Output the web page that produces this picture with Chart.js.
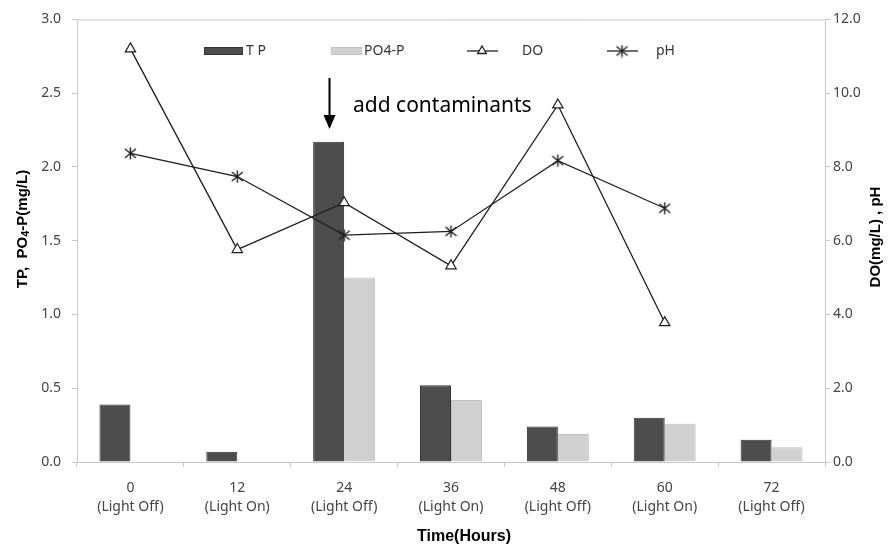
<!DOCTYPE html>
<html>
<head>
<meta charset="utf-8">
<script src="https://cdn.jsdelivr.net/npm/chart.js@4"></script>
<style>
  html, body { margin: 0; padding: 0; background: #fff; }
  #wrap { width: 889px; height: 550px; position: relative; }
</style>
</head>
<body>
<div id="wrap"><canvas id="c" width="889" height="550"></canvas></div>
<script>
// ---- data ----
const hours = ["0", "12", "24", "36", "48", "60", "72"];
const phases = ["(Light Off)", "(Light On)", "(Light Off)", "(Light On)", "(Light Off)", "(Light On)", "(Light Off)"];
const tpValues = [0.39, 0.07, 2.17, 0.52, 0.24, 0.30, 0.15];
const po4Values = [null, null, 1.25, 0.42, 0.19, 0.26, 0.10];
const doValues = [11.2, 5.76, 7.03, 5.32, 9.68, 3.78, null];
const phValues = [8.37, 7.74, 6.15, 6.25, 8.17, 6.88, null];
const leftTicks = [0, 0.5, 1.0, 1.5, 2.0, 2.5, 3.0];
const rightTicks = [0, 2, 4, 6, 8, 10, 12];
const seriesNames = ["T P", "PO4-P", "DO", "pH"];
const annotationText = "add contaminants";
const annotationIndex = 2;

const labels = hours.map((h, i) => [h, phases[i]]);

// dotted light pattern for PO4-P bars
function makePattern() {
  const p = document.createElement('canvas');
  p.width = 2; p.height = 2;
  const g = p.getContext('2d');
  g.fillStyle = '#dcdcdc'; g.fillRect(0, 0, 2, 2);
  g.fillStyle = '#c4c4c4'; g.fillRect(0, 0, 1, 1); g.fillRect(1, 1, 1, 1);
  return g.createPattern(p, 'repeat');
}
// six-armed asterisk marker for pH
function makeAsterisk() {
  const c = document.createElement('canvas');
  c.width = 13; c.height = 13;
  const g = c.getContext('2d');
  g.strokeStyle = '#1e1e1e'; g.lineWidth = 1.4;
  g.beginPath();
  g.moveTo(1, 2); g.lineTo(12, 11);
  g.moveTo(12, 2); g.lineTo(1, 11);
  g.moveTo(6.5, 0.5); g.lineTo(6.5, 12.5);
  g.stroke();
  return c;
}
const ctx0 = document.getElementById('c').getContext('2d');
const po4Fill = makePattern();
const asterisk = makeAsterisk();

const LINE = '#1e1e1e';
const TICKFONT = { family: "'Noto Sans', 'Open Sans', sans-serif", size: 14, lineHeight: 1.4 };
const AXISCOL = '#c8c8c8';

const overlay = {
  id: 'overlay',
  afterDraw(chart) {
    const ctx = chart.ctx;
    const a = chart.chartArea;
    ctx.save();
    // top border
    ctx.strokeStyle = AXISCOL; ctx.lineWidth = 1;
    ctx.beginPath(); ctx.moveTo(a.left, a.top + 0.5); ctx.lineTo(a.right, a.top + 0.5); ctx.stroke();

    // legend
    const ly = 51;
    ctx.font = "14px 'Noto Sans', sans-serif";
    ctx.textBaseline = 'middle';
    // TP
    ctx.fillStyle = '#4d4d4d'; ctx.fillRect(204, ly - 4, 39, 8);
    ctx.strokeStyle = '#333'; ctx.lineWidth = 1; ctx.strokeRect(204.5, ly - 3.5, 38, 7);
    ctx.fillStyle = '#333'; ctx.textAlign = 'left';
    ctx.fillText(seriesNames[0], 246, ly);
    // PO4
    ctx.fillStyle = po4Fill; ctx.fillRect(331, ly - 4, 31, 8);
    ctx.strokeStyle = '#c0c0c0'; ctx.strokeRect(331.5, ly - 3.5, 30, 7);
    ctx.fillStyle = '#333';
    ctx.fillText(seriesNames[1], 364, ly);
    // DO
    ctx.strokeStyle = LINE; ctx.lineWidth = 1.3;
    ctx.beginPath(); ctx.moveTo(467, ly); ctx.lineTo(498, ly); ctx.stroke();
    ctx.fillStyle = '#fff';
    Chart.helpers.drawPoint(ctx, { pointStyle: 'triangle', radius: 5, borderWidth: 1.2 }, 482, ly);
    ctx.fillStyle = '#333';
    ctx.fillText(seriesNames[2], 522, ly);
    // pH
    ctx.strokeStyle = LINE; ctx.lineWidth = 1.3;
    ctx.beginPath(); ctx.moveTo(607, ly); ctx.lineTo(638, ly); ctx.stroke();
    ctx.drawImage(asterisk, 622 - 6.5, ly - 6.5);
    ctx.fillStyle = '#333';
    ctx.fillText(seriesNames[3], 656, ly);

    // annotation arrow above TP bar at 24h
    const bar = chart.getDatasetMeta(0).data[annotationIndex];
    const ax = Math.round(bar.x) + 0.5;
    ctx.strokeStyle = '#000'; ctx.lineWidth = 2;
    ctx.beginPath(); ctx.moveTo(ax, 78); ctx.lineTo(ax, 118); ctx.stroke();
    ctx.fillStyle = '#000';
    ctx.beginPath(); ctx.moveTo(ax - 6, 115); ctx.lineTo(ax + 6, 115); ctx.lineTo(ax, 129); ctx.closePath(); ctx.fill();
    ctx.font = "21px 'Noto Sans', sans-serif";
    ctx.textAlign = 'left'; ctx.textBaseline = 'middle';
    ctx.fillText(annotationText, 353, 106);

    // axis titles
    const bold = "bold 15px 'Liberation Sans', Arial, sans-serif";
    const boldSmall = "bold 11px 'Liberation Sans', Arial, sans-serif";
    // left title with subscript 4
    ctx.save();
    ctx.translate(23, 229);
    ctx.rotate(-Math.PI / 2);
    const parts = [["TP,  PO", bold, 0], ["4", boldSmall, 3], ["-P(mg/L)", bold, 0]];
    let total = 0;
    parts.forEach(p => { ctx.font = p[1]; total += ctx.measureText(p[0]).width; });
    let x = -total / 2;
    ctx.fillStyle = '#000'; ctx.textAlign = 'left'; ctx.textBaseline = 'middle';
    parts.forEach(p => { ctx.font = p[1]; ctx.fillText(p[0], x, p[2]); x += ctx.measureText(p[0]).width; });
    ctx.restore();
    // right title
    ctx.save();
    ctx.translate(876, 237);
    ctx.rotate(-Math.PI / 2);
    ctx.font = bold; ctx.fillStyle = '#000'; ctx.textAlign = 'center'; ctx.textBaseline = 'middle';
    ctx.fillText("DO(mg/L) , pH", 0, 0);
    ctx.restore();
    // x title
    ctx.font = "bold 16px 'Liberation Sans', Arial, sans-serif";
    ctx.fillStyle = '#000'; ctx.textAlign = 'center'; ctx.textBaseline = 'middle';
    ctx.fillText("Time(Hours)", 464, 537);
    ctx.restore();
  }
};

new Chart(ctx0, {
  type: 'bar',
  data: {
    labels: labels,
    datasets: [
      { type: 'bar', label: seriesNames[0], data: tpValues, backgroundColor: '#4d4d4d', borderColor: '#333', borderWidth: 1,
        yAxisID: 'y', order: 2, categoryPercentage: 0.58, barPercentage: 1.0 },
      { type: 'bar', label: seriesNames[1], data: po4Values, backgroundColor: po4Fill, borderColor: '#c0c0c0', borderWidth: 1,
        yAxisID: 'y', order: 2, categoryPercentage: 0.58, barPercentage: 1.0 },
      { type: 'line', label: seriesNames[2], data: doValues, yAxisID: 'y1', order: 1,
        borderColor: LINE, borderWidth: 1.3, tension: 0, spanGaps: false,
        pointStyle: 'triangle', pointRadius: 6, pointBackgroundColor: '#fff', pointBorderColor: LINE, pointBorderWidth: 1.2 },
      { type: 'line', label: seriesNames[3], data: phValues, yAxisID: 'y1', order: 1,
        borderColor: LINE, borderWidth: 1.3, tension: 0, spanGaps: false,
        pointStyle: asterisk, pointRadius: 6, pointBackgroundColor: LINE, pointBorderColor: LINE, pointBorderWidth: 1.3 }
    ]
  },
  options: {
    responsive: false,
    animation: false,
    devicePixelRatio: 1,
    layout: { padding: { top: 13, left: 0, right: 0, bottom: 0 } },
    plugins: { legend: { display: false }, tooltip: { enabled: false } },
    scales: {
      x: {
        offset: true,
        grid: { offset: true, drawOnChartArea: false, drawTicks: true, tickLength: 5, color: AXISCOL },
        border: { color: AXISCOL },
        ticks: { color: '#444', font: TICKFONT, padding: 11, maxRotation: 0, autoSkip: false },
        afterFit(s) { s.height = 88; }
      },
      y: {
        position: 'left', min: 0, max: 3,
        afterBuildTicks(s) { s.ticks = leftTicks.map(v => ({ value: v })); },
        grid: { drawOnChartArea: false, drawTicks: true, tickLength: 5, color: AXISCOL },
        border: { color: AXISCOL },
        ticks: { color: '#444', font: { family: TICKFONT.family, size: 14 }, padding: 11, callback: v => Number(v).toFixed(1) },
        afterFit(s) { s.width = 77; }
      },
      y1: {
        position: 'right', min: 0, max: 12,
        afterBuildTicks(s) { s.ticks = rightTicks.map(v => ({ value: v })); },
        grid: { drawOnChartArea: false, drawTicks: true, tickLength: 5, color: AXISCOL },
        border: { color: AXISCOL },
        ticks: { color: '#444', font: { family: TICKFONT.family, size: 14 }, padding: 3, callback: v => Number(v).toFixed(1) },
        afterFit(s) { s.width = 64; }
      }
    }
  },
  plugins: [overlay]
});
</script>
</body>
</html>
